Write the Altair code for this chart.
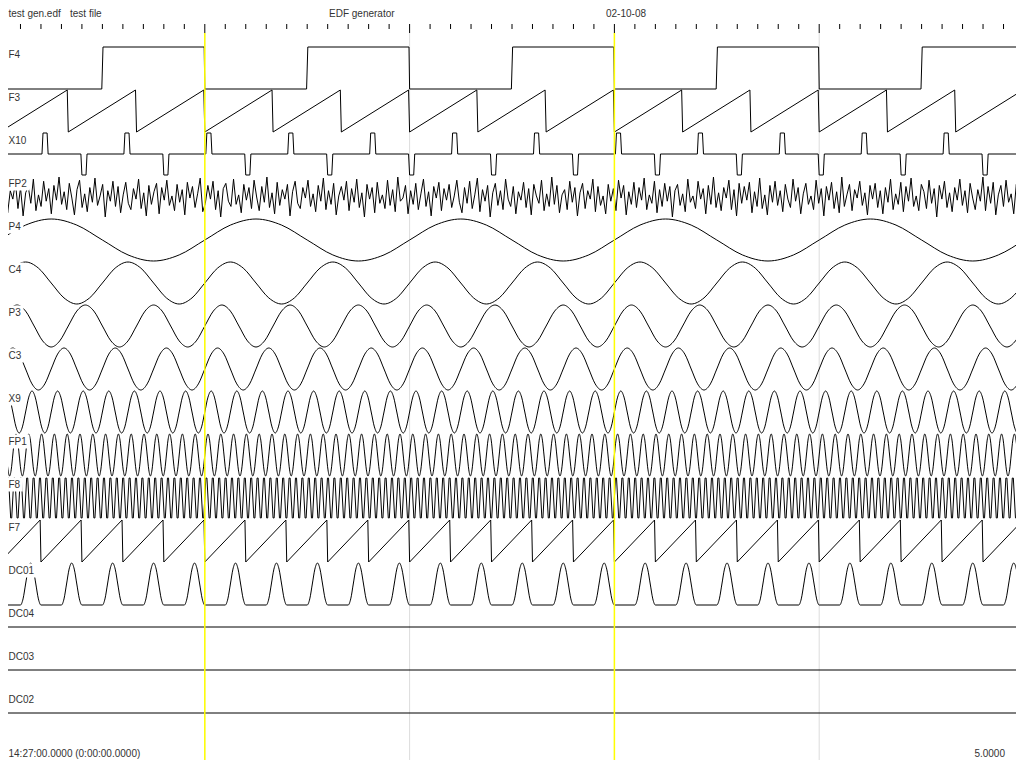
import altair as alt
import pandas as pd

# ---------------- values ----------------
page_seconds = 5.0
header_texts = ["test gen.edf", "test file", "EDF generator", "02-10-08"]
footer_left = "14:27:00.0000 (0:00:00.0000)"
footer_right = "5.0000"

channel_labels = ["F4", "F3", "X10", "FP2", "P4", "C4", "P3", "C3",
                  "X9", "FP1", "F8", "F7", "DC01", "DC04", "DC03", "DC02"]

# one period of each periodic signal: phase within the period and value (full deflection = 1)
F4_period = 1.0
F4_phase = [0.0, 0.497, 0.503, 0.997]
F4_value = [-1, -1, 1, 1]

F3_period = 1 / 3
F3_phase = [0.0, 0.985]
F3_value = [-1, 1]

X10_period = 0.4
X10_phase = [0.0, 0.05, 0.0625, 0.5125, 0.525, 0.575, 0.5875, 0.9875]
X10_value = [-1, -1, 0, 0, 1, 1, 0, 0]

sine_phase = [0.0, 0.125, 0.25, 0.375, 0.5, 0.625, 0.75, 0.875]
sine_value = [0.0, 0.71, 1.0, 0.71, 0.0, -0.71, -1.0, -0.71]
P4_period = 1.0
C4_period = 0.5
P3_period = 1 / 3
C3_period = 0.25
X9_period = 0.125
FP1_period = 0.0625

F8_period = 1 / 32
F8_phase = [0.0, 1 / 6, 2 / 6, 3 / 6, 4 / 6, 5 / 6]
F8_value = [0.0, 0.95, 0.95, 0.0, -0.95, -0.95]

F7_period = 0.2
F7_phase = [0.0, 0.98]
F7_value = [-1, 1]

DC01_period = 0.2
DC01_phase = [0.0, 0.5, 0.5625, 0.625, 0.6875, 0.75, 0.8125, 0.875, 0.9375]
DC01_value = [-1, -1, -0.71, 0.0, 0.71, 1.0, 0.71, 0.0, -0.71]

flat_value = [0.0, 0.0]

# FP2: noise, read as deflection in twentieths
FP2_noise = [
    3, -8, 12, -15, 6, -2, 14, -11, 9, -18, 4, 10, -6, 17, -13, 2, -9, 15, -4, 8,
    -16, 11, -3, 19, -7, 5, -12, 13, -1, -17, 7, 16, -10, 3, -14, 9, -5, 18, -8, 1,
    12, -19, 6, -4, 15, -9, 10, -15, 2, 14, -6, -12, 8, -2, 17, -11, 4, -18, 11, -7,
    5, 13, -16, 9, -3, 16, -8, 1, -13, 12, -5, 7, -17, 14, -1, 10, -10, 3, 18, -14,
    -6, 11, -2, 15, -12, 6, -19, 8, 13, -4, -9, 17, -7, 2, -15, 12, -3, 9, -11, 16,
    0, -13, 10, -5, 19, -10, 4, -16, 14, -8, 7, -2, 12, -18, 5, 15, -6, -11, 9, -1,
    16, -9, 3, -14, 11, -4, 18, -12, 6, -7, 13, -17, 1, 10, -3, 15, -13, 8, -5, 17,
    -10, 4, -19, 12, -2, 9, -15, 14, -6, 2, -11, 16, -8, 7, -14, 19, -4, -1, 11, -16,
    6, -7, 13, -12, 3, 17, -9, 5, -18, 10, -1, 14, -13, 8, -3, 12, -10, 1, 16, -5,
    -15, 9, -6, 15, -11, 2, 18, -14, 7, -4, 11, -19, 4, 13, -8, 6, -12, 17, -2, -9,
    10, -16, 5, -3, 14, -10, 8, -17, 12, 1, -6, 16, -13, 3, -9, 19, -7, 11, -15, 2,
    7, -12, 15, -5, 9, -18, 4, 13, -11, 6, -2, 17, -14, 10, -8, 1, -16, 12, -4, 8,
    -13, 16, -1, 11, -17, 5, -7, 14, -10, 9, -3, 18, -12, 2, -6, 15, -15, 7, -9, 13,
    -4, 10, -19, 6, 12, -8, 3, -14, 17, -5, 1, -11, 15, -2, 8, -16, 11, -7, 19, -10,
    4, -13, 9, -1, 16, -12, 7, -18, 13, -6, 10, -3, 14, -15, 5, -9, 18, -11, 2, -17,
    11, -5, 15, -8, 6, -14, 12, -2, -10, 17, -4, 9, -16, 3, 13, -7, 1, -12, 16, -6,
    8, -18, 10, -3, 14, -11, 5, -15, 19, -9, 2, 12, -13, 7, -1, 15, -8, 4, -17, 11,
    -2, 13, -10, 6, -16, 9, -5, 17, -12, 3, -7, 14, -14, 10, -4, 18, -9, 1, -13, 12,
    5, -11, 16, -6, 8, -19, 11, -2, 15, -10, 4, -14, 9, -3, 17, -8, 6, -15, 13, -1,
    -12, 7, -4, 19, -13, 10, -6, 14, -17, 2, 11, -9, 16, -5, 3, -16, 12, -7, 8, -11,
]

cursor_seconds = [1.0, 3.0]          # yellow vertical cursors
grid_seconds = [1.0, 2.0, 3.0, 4.0]  # light grey second lines
tick_step = 0.1                      # ruler ticks every 0.1 s

# ---------------- layout (screen pixels of the reference) ----------------
PX_PER_S = 204.8
MARGIN = 8
W, H = 1008, 752
ROW0, ROW_STEP, AMP = 68, 43, 21
LABEL_DY = -13.5
FONT = "Liberation Sans, Arial, sans-serif"
TEXT_COLOR = "#333333"


def tile(period, phases, values, t_end=5.05):
    ts, vs = [], []
    k = 0
    while k * period <= t_end:
        for p, v in zip(phases, values):
            t = (k + p) * period
            if t <= t_end:
                ts.append(t)
                vs.append(v)
        k += 1
    return ts, vs


def px_to_s(px):
    return px / PX_PER_S


linear_defs = {
    "F4": (F4_period, F4_phase, F4_value),
    "F3": (F3_period, F3_phase, F3_value),
    "X10": (X10_period, X10_phase, X10_value),
    "F8": (F8_period, F8_phase, F8_value),
    "F7": (F7_period, F7_phase, F7_value),
}
smooth_defs = {
    "P4": (P4_period, sine_phase, sine_value),
    "C4": (C4_period, sine_phase, sine_value),
    "P3": (P3_period, sine_phase, sine_value),
    "C3": (C3_period, sine_phase, sine_value),
    "X9": (X9_period, sine_phase, sine_value),
    "FP1": (FP1_period, sine_phase, sine_value),
    "DC01": (DC01_period, DC01_phase, DC01_value),
}

center = {lab: ROW0 + ROW_STEP * i for i, lab in enumerate(channel_labels)}

lin_rows, smooth_rows = [], []
for lab, (per, ph, val) in linear_defs.items():
    ts, vs = tile(per, ph, val)
    lin_rows += [{"ch": lab, "t": t, "y": center[lab] - AMP * v} for t, v in zip(ts, vs)]
for lab, (per, ph, val) in smooth_defs.items():
    ts, vs = tile(per, ph, val)
    smooth_rows += [{"ch": lab, "t": t, "y": center[lab] - AMP * v} for t, v in zip(ts, vs)]
n = len(FP2_noise)
lin_rows += [{"ch": "FP2", "t": i * page_seconds / (n - 1), "y": center["FP2"] - AMP * v / 20}
             for i, v in enumerate(FP2_noise)]
for lab in ["DC04", "DC03", "DC02"]:
    lin_rows += [{"ch": lab, "t": t, "y": center[lab] - AMP * v}
                 for t, v in zip([px_to_s(8), page_seconds], flat_value)]

df_lin = pd.DataFrame(lin_rows)
df_smooth = pd.DataFrame(smooth_rows)

xs = alt.Scale(domain=[px_to_s(MARGIN), px_to_s(MARGIN + W)], nice=False, zero=False)
ys = alt.Scale(domain=[MARGIN + H, MARGIN], nice=False, zero=False)


def X(f="t"):
    return alt.X(f"{f}:Q", scale=xs, axis=None)


def Y(f="y"):
    return alt.Y(f"{f}:Q", scale=ys, axis=None)


# ruler ticks
ticks = []
k = 1
while k * tick_step < page_seconds - 1e-6:
    t = k * tick_step
    whole = abs(t - round(t)) < 1e-6
    ticks.append({"t": t, "y": 24, "y2": 33 if whole else 29})
    k += 1
df_ticks = pd.DataFrame(ticks)

df_grid = pd.DataFrame({"t": grid_seconds, "y": 33, "y2": MARGIN + H})
df_cur = pd.DataFrame({"t": cursor_seconds, "y": 33, "y2": MARGIN + H})

char_w = {"F": 6.1, "P": 6.7, "C": 7.2, "X": 6.7, "D": 7.2}
label_rows = []
for lab in channel_labels:
    w = sum(char_w.get(c, 5.6) for c in lab)
    cy = center[lab] + LABEL_DY
    label_rows.append({"ch": lab, "t": px_to_s(8.5), "y": cy,
                       "bx": px_to_s(MARGIN), "bx2": px_to_s(9 + w + 2),
                       "by": cy - 7, "by2": cy + 7})
df_labels = pd.DataFrame(label_rows)

df_head = pd.DataFrame({"txt": header_texts,
                        "t": [px_to_s(p) for p in [8.5, 70, 329, 606]],
                        "y": [9, 9, 9, 9]})
df_foot_l = pd.DataFrame({"txt": [footer_left], "t": [px_to_s(8.5)], "y": [754]})
df_foot_r = pd.DataFrame({"txt": [footer_right], "t": [px_to_s(1005)], "y": [754]})

grid = alt.Chart(df_grid).mark_rule(color="#dcdcdc", strokeWidth=1).encode(x=X(), y=Y(), y2="y2:Q")
tick_layer = alt.Chart(df_ticks).mark_rule(color="black", strokeWidth=1).encode(x=X(), y=Y(), y2="y2:Q")
lines_lin = alt.Chart(df_lin).mark_line(color="black", strokeWidth=1, clip=True).encode(
    x=X(), y=Y(), detail="ch:N", order="t:Q")
lines_smooth = alt.Chart(df_smooth).mark_line(
    color="black", strokeWidth=1, clip=True, interpolate="monotone").encode(
    x=X(), y=Y(), detail="ch:N", order="t:Q")
cursors = alt.Chart(df_cur).mark_rule(color="#ffff00", strokeWidth=1.5).encode(x=X(), y=Y(), y2="y2:Q")
boxes = alt.Chart(df_labels).mark_rect(color="white").encode(
    x=X("bx"), x2="bx2:Q", y=Y("by"), y2="by2:Q")
labels = alt.Chart(df_labels).mark_text(
    align="left", baseline="middle", font=FONT, fontSize=10, color=TEXT_COLOR).encode(
    x=X(), y=Y(), text="ch:N")
head = alt.Chart(df_head).mark_text(
    align="left", baseline="top", font=FONT, fontSize=10, color=TEXT_COLOR).encode(
    x=X(), y=Y(), text="txt:N")
foot_l = alt.Chart(df_foot_l).mark_text(
    align="left", baseline="middle", font=FONT, fontSize=10, color=TEXT_COLOR).encode(
    x=X(), y=Y(), text="txt:N")
foot_r = alt.Chart(df_foot_r).mark_text(
    align="right", baseline="middle", font=FONT, fontSize=10, color=TEXT_COLOR).encode(
    x=X(), y=Y(), text="txt:N")

chart = alt.layer(grid, tick_layer, lines_lin, lines_smooth, cursors, boxes, labels,
                  head, foot_l, foot_r).properties(
    width=W, height=H, padding=0, background="white",
    autosize=alt.AutoSizeParams(type="none")
).configure_view(stroke=None)

chart.save("out.html", embed_options={"renderer": "svg", "actions": False})
